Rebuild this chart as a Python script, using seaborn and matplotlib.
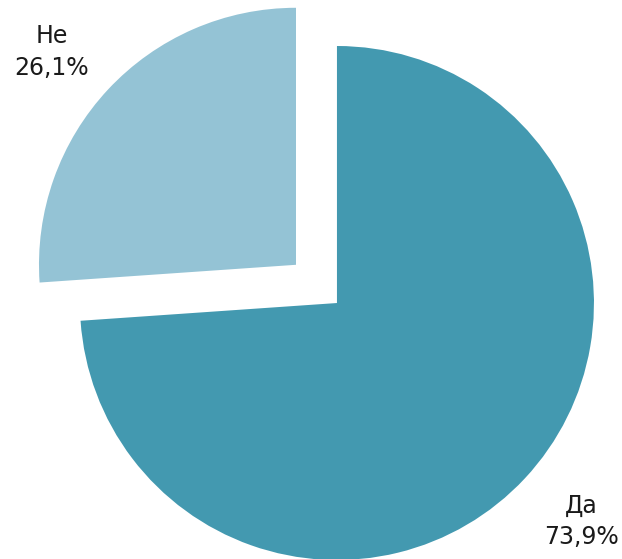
import numpy as np
import matplotlib.pyplot as plt
import matplotlib.transforms as mtransforms
import seaborn as sns

sns.set_theme(style='white')
plt.rcParams['font.family'] = ['DejaVu Sans']

categories = ['Да', 'Не']
values = [73.9, 26.1]
colors = ['#4399b0', '#94c3d5']
explode = [0, 0.218]

labels = [f'{c}\n{v:.1f}%'.replace('.', ',') for c, v in zip(categories, values)]

fig = plt.figure(figsize=(6.22, 5.59), dpi=100)
ax = fig.add_axes([0, 0, 1, 1])

wedges, texts = ax.pie(values, labels=labels, colors=colors, explode=explode,
                       startangle=90, counterclock=False, radius=1,
                       labeldistance=1.27,
                       wedgeprops=dict(linewidth=0),
                       textprops=dict(ha='center', va='center', fontsize=17,
                                      color='#1a1a1a', linespacing=1.4))

# small nudges (points) so the labels sit where they do in the original
nudges = [(4, 3), (-4, -7)]
for t, (dx, dy) in zip(texts, nudges):
    t.set_transform(mtransforms.offset_copy(t.get_transform(), fig=fig,
                                            x=dx, y=dy, units='points'))

ax.set_xlim(-1.311, 1.109)
ax.set_ylim(-0.996, 1.179)
ax.axis('off')

plt.savefig('out.png', dpi=100)
